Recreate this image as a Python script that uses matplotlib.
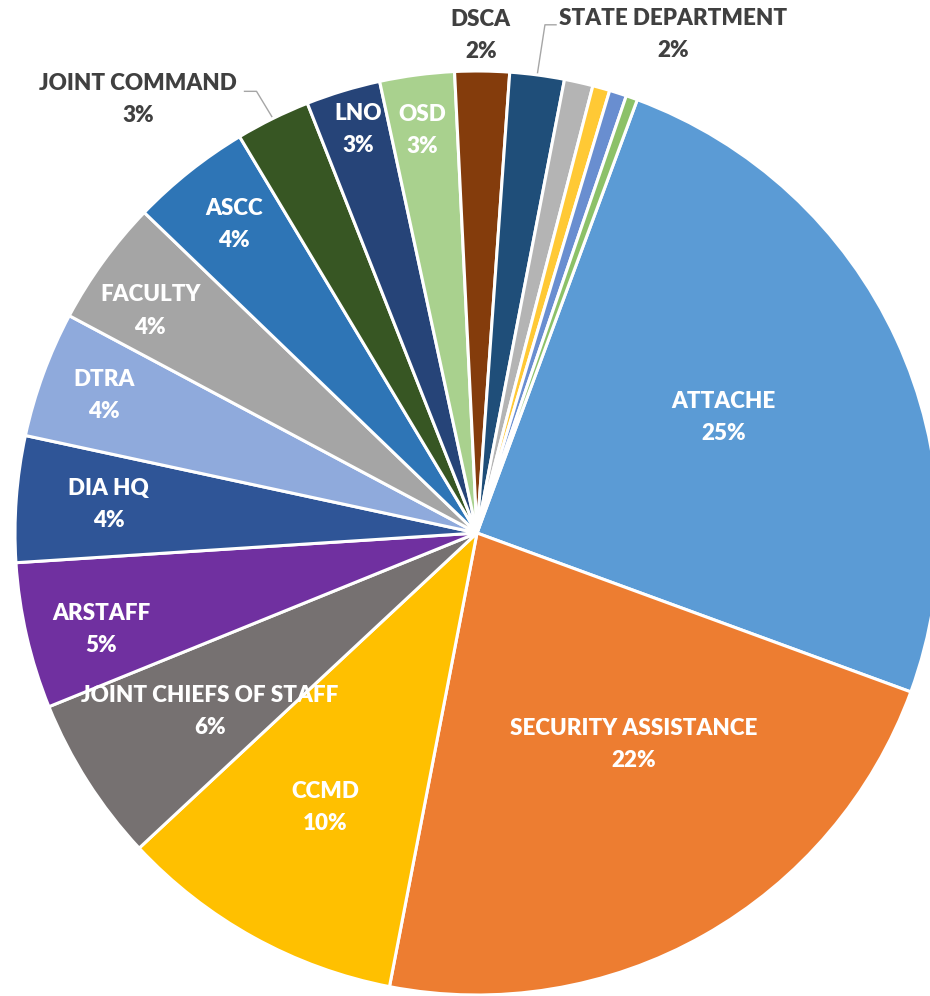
import numpy as np
import matplotlib
matplotlib.use("Agg")
import matplotlib.pyplot as plt

# ---- data ----
categories = ["ATTACHE", "SECURITY ASSISTANCE", "CCMD", "JOINT CHIEFS OF STAFF",
              "ARSTAFF", "DIA HQ", "DTRA", "FACULTY", "ASCC", "JOINT COMMAND",
              "LNO", "OSD", "DSCA", "STATE DEPARTMENT",
              "OTHER 1", "OTHER 2", "OTHER 3", "OTHER 4"]
values = [24.9, 22.4, 10.0, 5.8, 5.1, 4.4, 4.4, 4.4, 4.2, 2.6, 2.6, 2.6,
          1.9, 1.9, 1.0, 0.6, 0.6, 0.4]
pct_labels = ["25%", "22%", "10%", "6%", "5%", "4%", "4%", "4%", "4%", "3%",
              "3%", "3%", "2%", "2%", "", "", "", ""]
show_label = [True] * 14 + [False] * 4

# ---- style ----
colors = ["#5B9BD5", "#ED7D31", "#FFC000", "#767171", "#7030A0", "#2F5597",
          "#8FAADC", "#A5A5A5", "#2E75B6", "#375623", "#264478", "#A9D18E",
          "#843C0C", "#1F4E79", "#B4B4B4", "#FFC935", "#698ED0", "#8CC168"]
# label placement: (radius fraction, angle offset from wedge mid, outside?)
placement = {
    "ATTACHE": (0.59, 0.3, False),
    "SECURITY ASSISTANCE": (0.57, 7.0, False),
    "CCMD": (0.68, 0.0, False),
    "JOINT CHIEFS OF STAFF": (0.695, 1.2, False),
    "ARSTAFF": (0.84, 1.5, False),
    "DIA HQ": (0.80, -0.2, False),
    "DTRA": (0.86, -0.2, False),
    "FACULTY": (0.855, 1.8, False),
    "ASCC": (0.85, -0.2, False),
    "JOINT COMMAND": (1.19, 11.8, True),
    "LNO": (0.91, -0.4, False),
    "OSD": (0.88, 0.3, False),
    "DSCA": (1.076, 0.2, True),
    "STATE DEPARTMENT": (1.16, -14.0, True),
}

plt.rcParams['font.family'] = ['Lato', 'DejaVu Sans']

fig = plt.figure(figsize=(9.3, 9.96), dpi=100)
ax = fig.add_axes([0, 0, 1, 1])

start = 69.7
wedges, _ = ax.pie(values, colors=colors, startangle=start, counterclock=False,
                   radius=1.0, center=(0, 0),
                   wedgeprops=dict(edgecolor="white", linewidth=2.2))

ax.set_xlim((0 - 477) / 462, (930 - 477) / 462)
ax.set_ylim((533 - 996) / 462, 533 / 462)
ax.set_aspect('auto')
ax.axis('off')

fs = 16.1
for w, name, pct, show in zip(wedges, categories, pct_labels, show_label):
    if not show:
        continue
    r, off, outside = placement[name]
    mid = (w.theta1 + w.theta2) / 2.0
    ang = np.deg2rad(mid + off)
    x, y = r * np.cos(ang), r * np.sin(ang)
    col = "#404040" if outside else "white"
    ax.text(x, y, name + "\n" + pct, ha="center", va="center", color=col,
            fontsize=fs, fontweight="heavy", linespacing=1.65)
    if outside and name in ("JOINT COMMAND", "STATE DEPARTMENT"):
        mrad = np.deg2rad(mid)
        ex, ey = 1.005 * np.cos(mrad), 1.005 * np.sin(mrad)
        if name == "STATE DEPARTMENT":
            kx, ky = ex + 0.016, 1.10
            tx = kx + 0.024
            ax.plot([ex, kx, tx], [ey, ky, ky], color="#A6A6A6", lw=1.0)
        else:
            kx, ky = ex - 0.033, 0.956
            tx = kx - 0.026
            ax.plot([ex, kx, tx], [ey, ky, ky], color="#A6A6A6", lw=1.0)

fig.savefig("out.png", dpi=100)
